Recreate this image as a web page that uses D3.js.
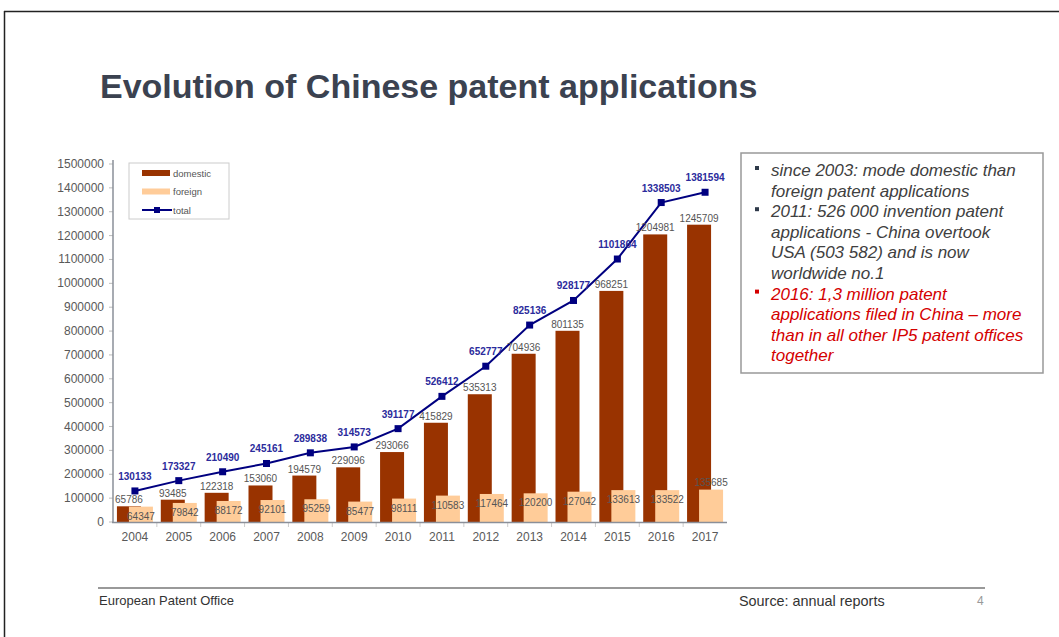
<!DOCTYPE html>
<html>
<head>
<meta charset="utf-8">
<script src="https://cdn.jsdelivr.net/npm/d3@7"></script>
<style>
  body { margin: 0; background: #fff; }
  svg { display: block; font-family: "Liberation Sans", Arial, sans-serif; }
</style>
</head>
<body>
<div id="chart"></div>
<script>
const years = ["2004", "2005", "2006", "2007", "2008", "2009", "2010", "2011", "2012", "2013", "2014", "2015", "2016", "2017"];
const domestic = [65786, 93485, 122318, 153060, 194579, 229096, 293066, 415829, 535313, 704936, 801135, 968251, 1204981, 1245709];
const foreign = [64347, 79842, 88172, 92101, 95259, 85477, 98111, 110583, 117464, 120200, 127042, 133613, 133522, 135685];
const total = [130133, 173327, 210490, 245161, 289838, 314573, 391177, 526412, 652777, 825136, 928177, 1101864, 1338503, 1381594];
const yTicks = d3.range(0, 1500001, 100000);
const legendItems = ["domestic", "foreign", "total"];
const notes = [
    { color: "#404040", bullet: "#2f3a4a", lines: ["since 2003: mode domestic than", "foreign patent applications"] },
    { color: "#404040", bullet: "#2f3a4a", lines: ["2011: 526 000  invention patent", "applications - China overtook", "USA (503 582) and is now", "worldwide no.1"] },
    { color: "#d40000", bullet: "#d40000", lines: ["2016: 1,3 million patent", "applications filed in China \u2013 more", "than in all other IP5 patent offices", "together"] }
];

const width = 1059;
const height = 637;
const colors = { domestic: "#993300", foreign: "#FFCC99", total: "#000080" };

const svg = d3.select("#chart")
    .append("svg")
    .attr("width", width)
    .attr("height", height);

// slide frame
svg.append("line").attr("x1", 4).attr("x2", width).attr("y1", 11.5).attr("y2", 11.5)
    .attr("stroke", "#222").attr("stroke-width", 1.5);
svg.append("line").attr("x1", 4.5).attr("x2", 4.5).attr("y1", 11).attr("y2", height)
    .attr("stroke", "#222").attr("stroke-width", 1.5);

svg.append("text")
    .attr("x", 100)
    .attr("y", 98)
    .attr("fill", "#3b4250")
    .style("font-size", "34px")
    .style("font-weight", "bold")
    .text("Evolution of Chinese patent applications");

// chart
const x = d3.scaleBand()
    .domain(years)
    .range([113, 727]);

const y = d3.scaleLinear()
    .domain([0, 1500000])
    .range([522, 164]);

const bw = 24;
const cx = d => x(d) + x.bandwidth() / 2;

const g = svg.append("g");

g.selectAll(".tickY")
    .data(yTicks)
    .enter()
    .append("line")
    .attr("x1", 109).attr("x2", 113)
    .attr("y1", d => y(d)).attr("y2", d => y(d))
    .attr("stroke", "#bbb");

g.selectAll(".ylab")
    .data(yTicks)
    .enter()
    .append("text")
    .attr("x", 104)
    .attr("y", d => y(d) + 4)
    .attr("text-anchor", "end")
    .attr("fill", "#595959")
    .style("font-size", "12px")
    .text(d => d);

g.selectAll(".tickX")
    .data(years.slice(1))
    .enter()
    .append("line")
    .attr("x1", d => x(d)).attr("x2", d => x(d))
    .attr("y1", 522).attr("y2", 527)
    .attr("stroke", "#ccc");

g.selectAll(".xlab")
    .data(years)
    .enter()
    .append("text")
    .attr("x", d => cx(d))
    .attr("y", 541)
    .attr("text-anchor", "middle")
    .attr("fill", "#595959")
    .style("font-size", "12px")
    .text(d => d);

g.selectAll(".dom")
    .data(years)
    .enter()
    .append("rect")
    .attr("x", d => cx(d) - bw * 0.75)
    .attr("y", (d, i) => y(domestic[i]))
    .attr("width", bw)
    .attr("height", (d, i) => y(0) - y(domestic[i]))
    .attr("fill", colors.domestic);

g.selectAll(".for")
    .data(years)
    .enter()
    .append("rect")
    .attr("x", d => cx(d) - bw * 0.25)
    .attr("y", (d, i) => y(foreign[i]))
    .attr("width", bw)
    .attr("height", (d, i) => y(0) - y(foreign[i]))
    .attr("fill", colors.foreign);

// axes lines
g.append("line").attr("x1", 113).attr("x2", 113).attr("y1", 160).attr("y2", 523)
    .attr("stroke", "#8a8f99").attr("stroke-width", 1.5);
g.append("line").attr("x1", 112).attr("x2", 727).attr("y1", 522.5).attr("y2", 522.5)
    .attr("stroke", "#8a8f99").attr("stroke-width", 1.5);

const line = d3.line()
    .x(d => cx(d.year))
    .y(d => y(d.v));

const totalPts = years.map((yr, i) => ({ year: yr, v: total[i] }));

g.append("path")
    .datum(totalPts)
    .attr("d", line)
    .attr("fill", "none")
    .attr("stroke", colors.total)
    .attr("stroke-width", 2);

g.selectAll(".mk")
    .data(totalPts)
    .enter()
    .append("rect")
    .attr("x", d => cx(d.year) - 3.5)
    .attr("y", d => y(d.v) - 3.5)
    .attr("width", 7)
    .attr("height", 7)
    .attr("fill", colors.total);

// data labels
g.selectAll(".tl")
    .data(totalPts)
    .enter()
    .append("text")
    .attr("x", d => cx(d.year))
    .attr("y", d => y(d.v) - 11)
    .attr("text-anchor", "middle")
    .attr("fill", "#2b2b9c")
    .style("font-size", "10px")
    .style("font-weight", "bold")
    .text(d => d.v);

g.selectAll(".dl")
    .data(years)
    .enter()
    .append("text")
    .attr("x", d => cx(d) - bw * 0.25)
    .attr("y", (d, i) => y(domestic[i]) - 3)
    .attr("text-anchor", "middle")
    .attr("fill", "#555")
    .style("font-size", "10px")
    .text((d, i) => domestic[i]);

g.selectAll(".fl")
    .data(years)
    .enter()
    .append("text")
    .attr("x", d => cx(d) + bw * 0.25)
    .attr("y", (d, i) => i === years.length - 1 ? y(foreign[i]) - 4 : y(foreign[i]) + 13)
    .attr("text-anchor", "middle")
    .attr("fill", "#555")
    .style("font-size", "10px")
    .text((d, i) => foreign[i]);

// legend
const lg = svg.append("g").attr("transform", "translate(129,163)");
lg.append("rect").attr("width", 100).attr("height", 56)
    .attr("fill", "#fff").attr("stroke", "#ccc");
legendItems.forEach((k, i) => {
    const yy = 10 + i * 18.5;
    if (k === "total") {
        lg.append("line").attr("x1", 13).attr("x2", 43).attr("y1", yy).attr("y2", yy)
            .attr("stroke", colors.total).attr("stroke-width", 2);
        lg.append("rect").attr("x", 25).attr("y", yy - 3).attr("width", 6).attr("height", 6)
            .attr("fill", colors.total);
    } else {
        lg.append("rect").attr("x", 13).attr("y", yy - 3).attr("width", 28).attr("height", 6)
            .attr("fill", colors[k]);
    }
    lg.append("text").attr("x", 44).attr("y", yy + 3.5)
        .attr("fill", "#555").style("font-size", "9.5px").text(k);
});

// note box
const nb = svg.append("g").attr("transform", "translate(741,153)");
nb.append("rect").attr("width", 302).attr("height", 220)
    .attr("fill", "#fff").attr("stroke", "#999").attr("stroke-width", 1.5);
let lineNo = 0;
notes.forEach(n => {
    nb.append("rect")
        .attr("x", 14).attr("y", 13 + lineNo * 20.6)
        .attr("width", 4).attr("height", 4)
        .attr("fill", n.bullet);
    n.lines.forEach(t => {
        nb.append("text")
            .attr("x", 30)
            .attr("y", 23 + lineNo * 20.6)
            .attr("fill", n.color)
            .style("font-size", "17px")
            .style("font-style", "italic")
            .text(t);
        lineNo++;
    });
});

// footer
svg.append("line").attr("x1", 98).attr("x2", 985).attr("y1", 588).attr("y2", 588)
    .attr("stroke", "#777").attr("stroke-width", 1.5);
svg.append("text").attr("x", 99).attr("y", 605).attr("fill", "#333")
    .style("font-size", "13px").text("European Patent Office");
svg.append("text").attr("x", 739).attr("y", 606).attr("fill", "#333")
    .style("font-size", "14.4px").text("Source: annual reports");
svg.append("text").attr("x", 977).attr("y", 605).attr("fill", "#999")
    .style("font-size", "12px").text("4");
</script>
</body>
</html>
